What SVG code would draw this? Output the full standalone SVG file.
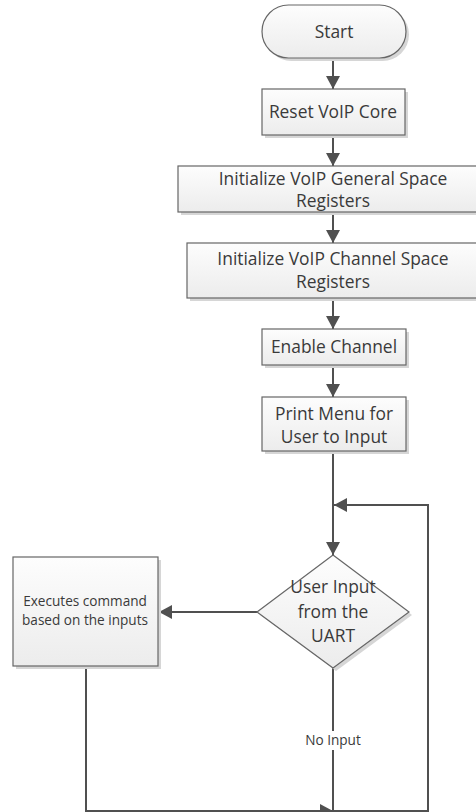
<svg xmlns="http://www.w3.org/2000/svg" width="476" height="812" viewBox="0 0 476 812">
<defs>
  <linearGradient id="fillg" x1="0" y1="0" x2="0" y2="1">
    <stop offset="0" stop-color="#fdfdfd"/>
    <stop offset="1" stop-color="#ececec"/>
  </linearGradient>
  <marker id="arr" markerUnits="userSpaceOnUse" markerWidth="14" markerHeight="14" viewBox="0 0 14 14" refX="13" refY="7" orient="auto">
    <path d="M0,0 L13,7 L0,14 Z" fill="#505050"/>
  </marker>
</defs>
<style>
  .shape { fill: url(#fillg); stroke: #666666; stroke-width: 1.2; }
  .shadow { fill: #d6d6d6; stroke: none; }
  .t { font-family: "Open Sans", "Liberation Sans", sans-serif; fill: #3a3a3a; text-anchor: middle; }
  .box { font-size: 17.4px; }
  .dia { font-size: 17.4px; }
  .small { font-size: 13.6px; }
  .conn { fill: none; stroke: #505050; stroke-width: 2; }
</style>
<rect width="476" height="812" fill="#ffffff"/>

<g id="connectors">
  <line class="conn" x1="333" y1="58" x2="333" y2="89" marker-end="url(#arr)"/>
  <line class="conn" x1="333" y1="135" x2="333" y2="166" marker-end="url(#arr)"/>
  <line class="conn" x1="333" y1="212" x2="333" y2="243" marker-end="url(#arr)"/>
  <line class="conn" x1="333" y1="298" x2="333" y2="329" marker-end="url(#arr)"/>
  <line class="conn" x1="333" y1="365" x2="333" y2="397" marker-end="url(#arr)"/>
  <line class="conn" x1="333" y1="451" x2="333" y2="555" marker-end="url(#arr)"/>
  <line class="conn" x1="257" y1="612" x2="159" y2="612" marker-end="url(#arr)"/>
  <polyline class="conn" points="86,666 86,811 333,811" marker-end="url(#arr)"/>
  <polyline class="conn" points="333,668 333,811 428,811 428,505 334,505" marker-end="url(#arr)"/>
  <rect x="302" y="731" width="62" height="19" fill="#ffffff"/>
  <text class="t small" x="333" y="745">No Input</text>
</g>

<g id="start">
  <rect class="shadow" x="265" y="8" width="144" height="53" rx="26.5"/>
  <rect class="shape" x="262" y="5" width="144" height="53" rx="26.5"/>
  <text class="t box" x="334" y="38">Start</text>
</g>

<g id="reset">
  <rect class="shadow" x="265" y="92" width="143" height="46"/>
  <rect class="shape" x="262" y="89" width="143" height="46"/>
  <text class="t box" x="333" y="118">Reset VoIP Core</text>
</g>

<g id="init-general">
  <rect class="shadow" x="181" y="169" width="310" height="46"/>
  <rect class="shape" x="178" y="166" width="310" height="46"/>
  <text class="t box" x="333" y="185">Initialize VoIP General Space</text>
  <text class="t box" x="333" y="207">Registers</text>
</g>

<g id="init-channel">
  <rect class="shadow" x="190" y="246" width="292" height="55"/>
  <rect class="shape" x="187" y="243" width="292" height="55"/>
  <text class="t box" x="333" y="265">Initialize VoIP Channel Space</text>
  <text class="t box" x="333" y="288">Registers</text>
</g>

<g id="enable">
  <rect class="shadow" x="265" y="332" width="144" height="36"/>
  <rect class="shape" x="262" y="329" width="144" height="36"/>
  <text class="t box" x="334" y="353">Enable Channel</text>
</g>

<g id="print">
  <rect class="shadow" x="265" y="400" width="144" height="54"/>
  <rect class="shape" x="262" y="397" width="144" height="54"/>
  <text class="t box" x="334" y="420">Print Menu for</text>
  <text class="t box" x="334" y="443">User to Input</text>
</g>

<g id="decision">
  <polygon class="shadow" points="336,558 412,615 336,671 260,615"/>
  <polygon class="shape" points="333,555 409,612 333,668 257,612"/>
  <text class="t dia" x="333" y="593">User Input</text>
  <text class="t dia" x="333" y="618">from the</text>
  <text class="t dia" x="333" y="642">UART</text>
</g>

<g id="execute">
  <rect class="shadow" x="16" y="560" width="145" height="109"/>
  <rect class="shape" x="13" y="557" width="145" height="109"/>
  <text class="t small" x="85" y="606">Executes command</text>
  <text class="t small" x="85" y="625">based on the inputs</text>
</g>
</svg>
